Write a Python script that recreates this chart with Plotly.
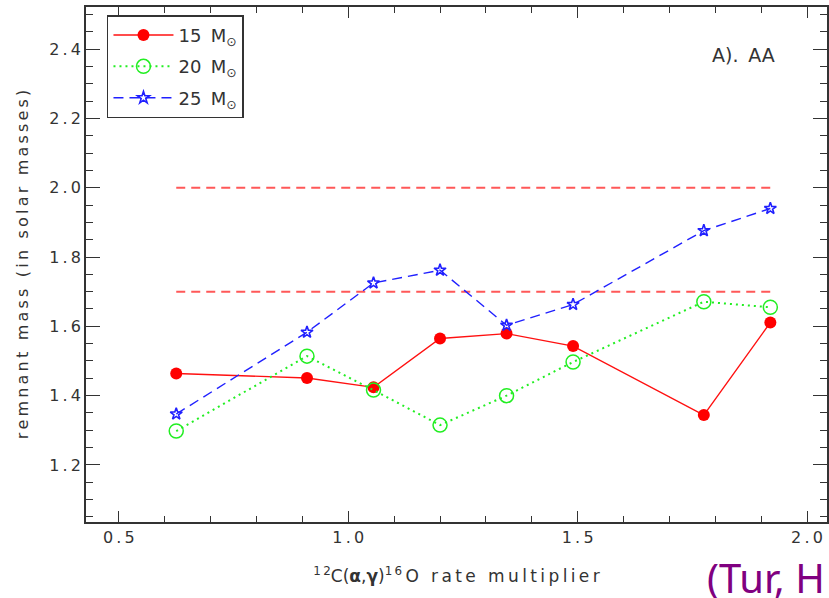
import plotly.graph_objects as go

# C12(a,g)O16 rate multiplier sampled for each stellar model
rate_multiplier = [0.625, 0.91, 1.055, 1.2, 1.345, 1.49, 1.775, 1.92]

# remnant masses (solar masses) per progenitor mass
remnant_15 = [1.464, 1.451, 1.424, 1.565, 1.579, 1.543, 1.344, 1.611]
remnant_20 = [1.298, 1.514, 1.416, 1.315, 1.400, 1.497, 1.671, 1.655]
remnant_25 = [1.347, 1.583, 1.725, 1.762, 1.603, 1.663, 1.876, 1.940]

# reference mass levels drawn as horizontal dashed guides
guide_levels = [2.0, 1.7]
guide_span = [0.625, 1.92]

x_tickvals = [0.5, 1.0, 1.5, 2.0]
y_tickvals = [1.2, 1.4, 1.6, 1.8, 2.0, 2.2, 2.4]

THIN = "\u2009"
WORD_GAP = THIN + " " + THIN


def spaced(s):
    """Open up the letter spacing of a plain string with thin spaces."""
    return THIN.join(s)


def spaced_words(s):
    return WORD_GAP.join(spaced(w) for w in s.split(" "))


x_ticktext = [spaced(f"{v:.1f}") for v in x_tickvals]
y_ticktext = [spaced(f"{v:.1f}") for v in y_tickvals]

AXIS_COLOR = "#333333"
FONT = "DejaVu Sans"

fig = go.Figure()

for level in guide_levels:
    fig.add_trace(go.Scatter(
        x=guide_span, y=[level, level], mode="lines",
        line=dict(color="rgba(255,70,70,0.9)", width=2, dash="9px,6px"),
        showlegend=False, hoverinfo="skip",
    ))

fig.add_trace(go.Scatter(
    x=rate_multiplier, y=remnant_15, mode="lines+markers",
    name="15 " + THIN + "M<sub>\u2299</sub>", legendgroup="a",
    line=dict(color="#ff1010", width=1.4),
    marker=dict(symbol="circle", size=12, color="#ff0000"),
))
fig.add_trace(go.Scatter(
    x=rate_multiplier, y=remnant_20, mode="lines+markers",
    name="20 " + THIN + "M<sub>\u2299</sub>", legendgroup="b",
    line=dict(color="#22ee22", width=2, dash="2px,4px"),
    marker=dict(symbol="circle-open", size=14, color="#22ee22", line=dict(width=1.5)),
))
fig.add_trace(go.Scatter(
    x=rate_multiplier, y=remnant_25, mode="lines+markers",
    name="25 " + THIN + "M<sub>\u2299</sub>", legendgroup="c",
    line=dict(color="#2020ff", width=1.4, dash="10px,6px"),
    marker=dict(symbol="star-open", size=9, color="#2020ff", line=dict(width=1.6)),
))

x_title = ("<sup>" + spaced("12") + "</sup>C(<b>\u03b1</b>,<b>\u03b3</b>)<sup>"
           + spaced("16") + "</sup>" + THIN + "O" + WORD_GAP + spaced_words("rate multiplier"))
y_title = spaced_words("remnant mass (in solar masses)")

fig.update_layout(
    width=829, height=598,
    margin=dict(l=86, r=0, t=7, b=76),
    paper_bgcolor="white", plot_bgcolor="white",
    font=dict(family=FONT, size=16, color=AXIS_COLOR),
    showlegend=True,
    legend=dict(
        x=0.0283, y=0.984, xanchor="left", yanchor="top",
        bgcolor="white", bordercolor=AXIS_COLOR, borderwidth=1.5,
        font=dict(family=FONT, size=18, color=AXIS_COLOR),
        tracegroupgap=5, itemwidth=60,
    ),
    xaxis=dict(
        range=[0.4283, 2.0435],
        tickvals=x_tickvals, ticktext=x_ticktext,
        ticks="inside", ticklen=11, tickwidth=1.3, tickcolor=AXIS_COLOR,
        minor=dict(dtick=0.1, tick0=0.5, ticks="inside", ticklen=6,
                   tickwidth=1.3, tickcolor=AXIS_COLOR, showgrid=False),
        showline=True, linecolor=AXIS_COLOR, linewidth=1.5, mirror="allticks",
        showgrid=False, zeroline=False,
        tickfont=dict(family=FONT, size=16, color=AXIS_COLOR),
        title=dict(text=x_title,
                   font=dict(family=FONT, size=17, color=AXIS_COLOR), standoff=24),
    ),
    yaxis=dict(
        range=[1.0355, 2.5212],
        tickvals=y_tickvals, ticktext=y_ticktext,
        ticks="inside", ticklen=14, tickwidth=1.3, tickcolor=AXIS_COLOR,
        minor=dict(dtick=0.05, tick0=1.2, ticks="inside", ticklen=7,
                   tickwidth=1.3, tickcolor=AXIS_COLOR, showgrid=False),
        showline=True, linecolor=AXIS_COLOR, linewidth=1.5, mirror="allticks",
        showgrid=False, zeroline=False,
        tickfont=dict(family=FONT, size=16, color=AXIS_COLOR),
        title=dict(text=y_title,
                   font=dict(family=FONT, size=16, color=AXIS_COLOR), standoff=17),
    ),
    annotations=[
        dict(text="A)." + THIN + " AA", xref="paper", yref="paper", x=0.932, y=0.907,
             xanchor="right", yanchor="middle", showarrow=False,
             font=dict(family=FONT, size=19, color=AXIS_COLOR)),
        dict(text="(Tur, H", xref="paper", yref="paper", x=0.8358, y=-0.107,
             xanchor="left", yanchor="middle", showarrow=False,
             font=dict(family="Noto Sans", size=40, color="#800080")),
    ],
)

fig.write_html("out.html")
